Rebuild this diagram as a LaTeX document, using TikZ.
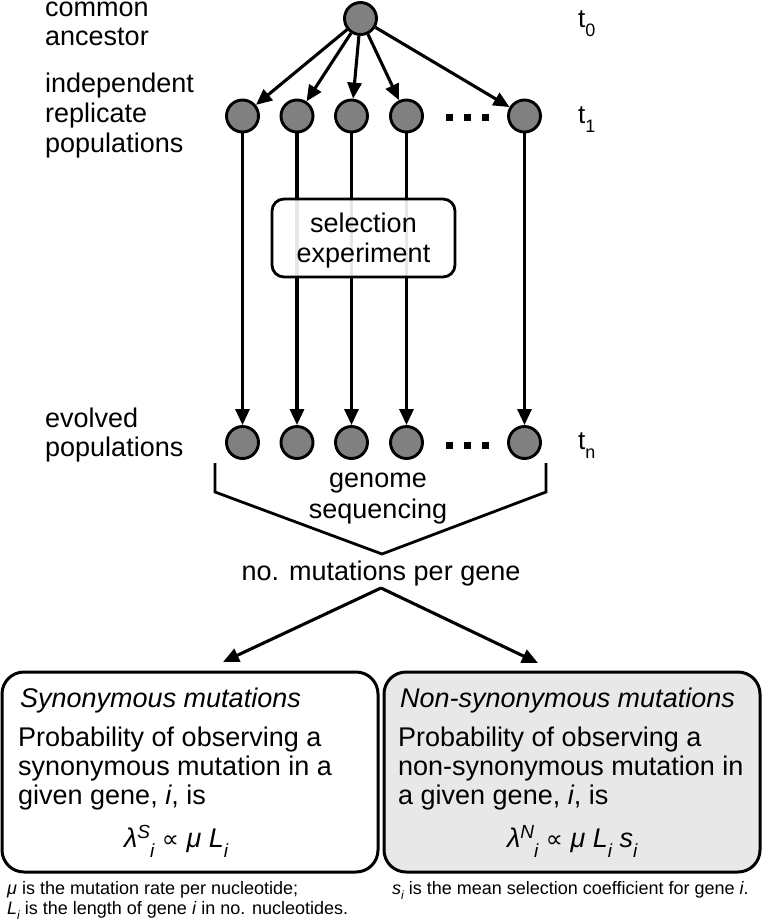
\documentclass[tikz,border=0pt]{standalone}
\usepackage{fontspec}
\setmainfont{Liberation Sans}
\newfontfamily\djv{DejaVu Sans}
\usetikzlibrary{arrows.meta}
\newcommand\tdn[1]{\raisebox{-9pt}{\fontsize{18}{18}\selectfont #1}}
\newcommand\mdn[1]{\raisebox{-10pt}{\fontsize{19}{19}\selectfont\itshape #1}}
\newcommand\mup[1]{\raisebox{9pt}{\fontsize{19}{19}\selectfont\itshape #1}}
\newcommand\fdn[1]{\raisebox{-5pt}{\fontsize{12}{12}\selectfont\itshape #1}}
\newcommand\prop{{\upshape\djv\fontsize{24}{26}\selectfont ∝}}
\begin{document}
\begin{tikzpicture}[x=1pt,y=-1pt,
  lab/.style={anchor=base west, inner sep=0pt, font=\fontsize{27}{30}\selectfont},
  ctr/.style={anchor=base, inner sep=0pt, font=\fontsize{27}{30}\selectfont},
  tlab/.style={anchor=base west, inner sep=0pt, font=\fontsize{26}{30}\selectfont},
  body/.style={anchor=base west, inner sep=0pt, font=\fontsize{27}{30}\selectfont},
  foot/.style={anchor=base west, inner sep=0pt, font=\fontsize{18}{21}\selectfont},
  pop/.style={circle, draw, line width=2.9pt, fill={rgb,255:red,128;green,128;blue,128}, minimum size=32pt, inner sep=0pt},
  arr/.style={line width=3.1pt, -{Triangle[length=16pt,width=14pt]}},
  dotsq/.style={fill=black, minimum size=7pt, inner sep=0pt},
  bigbox/.style={draw, line width=3pt, rounded corners=22pt, minimum width=376pt, minimum height=200pt, inner sep=0pt},
]
\useasboundingbox (0,0) rectangle (763,921);

% left labels
\node[lab] (l1) at (45,16) {common};
\node[lab] (l2) at (45,45) {ancestor};
\node[lab] (l3) at (45,92) {independent};
\node[lab] (l4) at (45,122) {replicate};
\node[lab] (l5) at (45,152) {populations};
\node[lab] (l6) at (45,427) {evolved};
\node[lab] (l7) at (45,456) {populations};

% time labels
\node[tlab] (t0) at (578,27) {t\tdn{0}};
\node[tlab] (t1) at (578,123) {t\tdn{1}};
\node[tlab] (tn) at (578,449) {t\tdn{n}};

% ancestor
\node[pop] (anc) at (360.5,18.5) {};

% replicate populations
\foreach \i/\x in {1/242.5,2/297,3/351.5,4/406.5,5/524.5}{
  \node[pop] (p\i) at (\x,116) {};
  \node[pop] (e\i) at (\x,442.5) {};
}
\node[dotsq] (da1) at (449,117) {};
\node[dotsq] (da2) at (467,117) {};
\node[dotsq] (da3) at (485,117) {};
\node[dotsq] (db1) at (449,445) {};
\node[dotsq] (db2) at (467,445) {};
\node[dotsq] (db3) at (485,445) {};

% arrows
\foreach \i in {1,...,5}{
  \draw[arr] (anc) -- (p\i);
  \draw[arr] (p\i) -- (e\i);
}

% selection experiment
\node[draw, line width=2.8pt, rounded corners=12pt, fill=white, fill opacity=0.9, minimum width=183pt, minimum height=78pt] (sel) at (363.5,238) {};
\node[ctr] (s1) at (363.5,232) {selection};
\node[ctr] (s2) at (363.5,262) {experiment};

% brace
\coordinate (b1) at (215,463);
\coordinate (b2) at (215,492);
\coordinate (apex) at (382,554);
\coordinate (b3) at (546,492);
\coordinate (b4) at (546,463);
\draw[line width=2.8pt] (b1) -- (b2) -- (apex) -- (b3) -- (b4);
\node[ctr] (g1) at (378,487) {genome};
\node[ctr] (g2) at (378,518) {sequencing};

\node[ctr] (mut) at (381,580) {no. mutations per gene};
\coordinate (split) at (381,588);
\coordinate (tipL) at (223,662);
\coordinate (tipR) at (538,663);
\draw[arr] (split) -- (tipL);
\draw[arr] (split) -- (tipR);

% boxes
\node[bigbox] (sbox) at (190,772) {};
\node[bigbox, fill={rgb,255:red,232;green,232;blue,232}] (nbox) at (572,772) {};

\node[body] (sh) at (20,707) {\itshape Synonymous mutations};
\node[body] (sa) at (18,746) {Probability of observing a};
\node[body] (sb) at (18,775) {synonymous mutation in a};
\node[body] (sc) at (18,804) {given gene, \textit{i}, is};
\node[body] (sf) at (124,847) {\itshape λ\mup{S}\mdn{i} \prop{} μ L\mdn{i}};

\node[body] (nh) at (400,707) {\itshape Non-synonymous mutations};
\node[body] (na) at (398,746) {Probability of observing a};
\node[body] (nb) at (398,775) {non-synonymous mutation in};
\node[body] (nc) at (398,804) {a given gene, \textit{i}, is};
\node[body] (nf) at (507,847) {\itshape λ\mup{N}\mdn{i} \prop{} μ L\mdn{i} s\mdn{i}};

% footnotes
\node[foot] (f1) at (7,894) {\textit{μ} is the mutation rate per nucleotide;};
\node[foot] (f2) at (7,914) {\textit{L}\fdn{i} is the length of gene \textit{i} in no. nucleotides.};
\node[foot] (f3) at (392,894) {\textit{s}\fdn{i} is the mean selection coefficient for gene \textit{i}.};
\end{tikzpicture}
\end{document}
